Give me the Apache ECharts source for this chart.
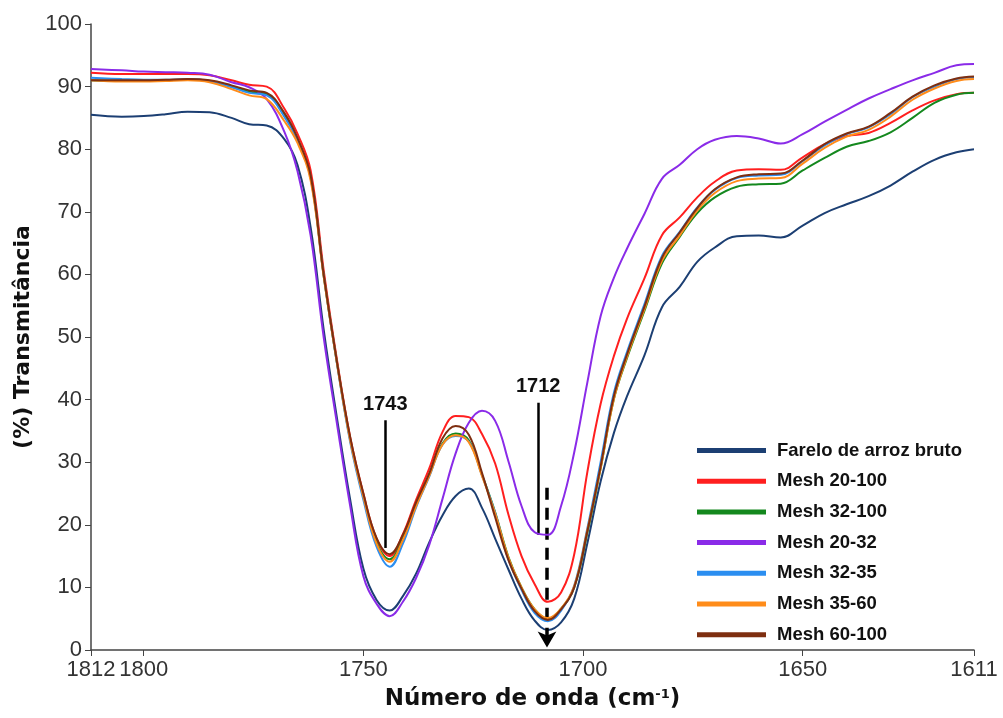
<!DOCTYPE html>
<html>
<head>
<meta charset="utf-8">
<script src="https://cdn.jsdelivr.net/npm/echarts@6/dist/echarts.min.js"></script>
<style>
  html, body { margin: 0; background: #fff; }
  #chart { width: 1003px; height: 718px; }
</style>
</head>
<body>
<div id="chart"></div>
<script>
  // wavenumbers (cm-1)
  const wn = [1812, 1805, 1800, 1795, 1790, 1785, 1780, 1776, 1772, 1768, 1765, 1762, 1759, 1756, 1753, 1750,
    1747, 1744, 1741, 1738, 1735, 1732, 1729, 1726, 1723, 1720, 1717, 1714, 1711, 1708, 1705, 1702, 1699, 1696,
    1693, 1690, 1686, 1682, 1678, 1674, 1670, 1665, 1660, 1655, 1650, 1645, 1640, 1635, 1630, 1625, 1620, 1615, 1611]

  const farelo = [85.5, 85.2, 85.3, 85.6, 86.0, 85.9, 85.0, 84.0, 83.8, 81.6, 77.5, 67.5, 51.0, 37.0, 24.0, 13.0,
    8.0, 6.3, 8.6, 12.2, 17.2, 21.5, 24.6, 25.8, 22.7, 17.8, 12.9, 8.2, 4.7, 3.2, 4.4, 8.2, 17.1, 26.9,
    34.6, 40.5, 47.1, 54.8, 58.0, 62.0, 64.3, 66.1, 66.2, 65.9, 67.8, 69.8, 71.2, 72.5, 74.2, 76.4, 78.3, 79.5, 80.0]
  const mesh20_100 = [92.2, 92.0, 92.0, 92.0, 92.0, 91.8, 91.0, 90.3, 90.0, 86.5, 82.5, 76.6, 60.5, 46.3, 34.0, 25.0,
    17.8, 15.0, 18.5, 24.0, 29.0, 34.8, 37.4, 37.2, 34.5, 29.8, 21.7, 15.0, 10.5, 7.7, 9.2, 15.3, 28.5, 39.3,
    46.9, 52.9, 59.4, 66.3, 69.1, 72.3, 74.8, 76.6, 76.8, 76.7, 78.7, 80.8, 82.1, 82.6, 84.2, 86.2, 87.8, 88.8, 89.0]
  const mesh32_100 = [91.0, 90.9, 90.9, 91.0, 91.1, 90.9, 90.0, 89.2, 88.8, 85.4, 81.5, 75.5, 59.6, 45.8, 33.6, 24.6,
    17.2, 14.5, 17.8, 23.2, 28.0, 33.0, 34.6, 33.5, 28.0, 22.0, 14.9, 10.0, 6.5, 5.0, 6.6, 10.0, 18.8, 29.0,
    40.0, 46.6, 54.2, 61.8, 66.0, 69.8, 72.3, 74.0, 74.4, 74.5, 76.6, 78.6, 80.4, 81.3, 82.7, 85.0, 87.4, 88.7, 89.0]
  const mesh20_32 = [92.8, 92.6, 92.4, 92.3, 92.2, 91.9, 90.7, 89.9, 88.0, 82.8, 76.5, 66.2, 49.8, 36.1, 23.0, 11.8,
    7.4, 5.4, 7.7, 11.5, 16.8, 24.1, 31.4, 36.3, 38.2, 36.6, 30.2, 23.0, 18.8, 18.4, 23.0, 31.6, 42.8, 53.3,
    59.4, 64.1, 69.7, 75.3, 77.5, 80.0, 81.5, 82.1, 81.7, 80.9, 82.4, 84.4, 86.3, 88.1, 89.6, 91.0, 92.2, 93.4, 93.6]
  const mesh32_35 = [91.4, 91.2, 91.1, 91.1, 91.2, 90.9, 89.9, 89.0, 88.6, 85.2, 81.4, 75.4, 59.6, 45.7, 33.2, 24.0,
    16.5, 13.3, 17.0, 22.8, 27.7, 32.8, 34.2, 33.3, 27.9, 21.9, 14.5, 9.6, 5.9, 4.6, 6.3, 10.3, 19.5, 30.0,
    41.0, 47.6, 55.3, 63.0, 66.8, 70.7, 73.5, 75.4, 75.8, 75.9, 78.1, 80.6, 82.4, 83.5, 85.6, 88.3, 90.0, 91.2, 91.5]
  const mesh35_60 = [91.0, 90.8, 90.8, 90.9, 91.0, 90.7, 89.6, 88.6, 88.0, 84.5, 81.0, 75.0, 59.5, 45.8, 33.5, 24.5,
    17.0, 14.1, 17.6, 23.0, 27.8, 32.8, 34.3, 33.2, 27.8, 21.8, 14.8, 10.0, 6.5, 5.1, 6.6, 10.2, 19.2, 29.0,
    40.0, 46.8, 54.5, 62.2, 66.2, 70.2, 73.0, 74.9, 75.3, 75.4, 77.7, 80.2, 82.0, 83.1, 85.2, 87.9, 89.7, 90.9, 91.2]
  const mesh60_100 = [91.0, 91.0, 91.0, 91.1, 91.2, 91.0, 90.2, 89.4, 89.0, 85.8, 81.8, 75.8, 59.8, 46.0, 34.0, 25.0,
    17.9, 15.3, 18.4, 23.6, 28.2, 33.8, 35.8, 34.4, 28.3, 21.2, 14.4, 9.8, 6.2, 4.8, 6.5, 10.0, 19.0, 29.3,
    40.5, 47.2, 54.9, 62.7, 66.7, 70.6, 73.6, 75.5, 76.0, 76.1, 78.2, 80.8, 82.5, 83.6, 85.8, 88.4, 90.2, 91.3, 91.6]

  const names = ['Farelo de arroz bruto', 'Mesh 20-100', 'Mesh 32-100', 'Mesh 20-32', 'Mesh 32-35', 'Mesh 35-60', 'Mesh 60-100']
  const values = [farelo, mesh20_100, mesh32_100, mesh20_32, mesh32_35, mesh35_60, mesh60_100]
  const colors = ['#1c3f73', '#ff1f1f', '#14881e', '#8a2be8', '#2b8ef0', '#ff8c1a', '#7e2e10']

  const xTicks = [1812, 1800, 1750, 1700, 1650, 1611]

  // peak annotations: [x, bottom, top, label]
  const peakLines = [[1745, 16.3, 36.7, '1743'], [1710.2, 18.4, 39.5, '1712']]
  const arrowLine = [1708.2, 25.9, 0.4]

  const chart = echarts.init(document.getElementById('chart'))

  const markData = peakLines.map(p => [
    { coord: [p[0], p[1]], symbol: 'none' },
    { coord: [p[0], p[2]], symbol: 'none', label: { show: true, position: 'end', formatter: p[3] } }
  ])
  markData.push([
    { coord: [arrowLine[0], arrowLine[1]], symbol: 'none' },
    { coord: [arrowLine[0], arrowLine[2]], symbol: 'arrow', symbolSize: [14, 16],
      lineStyle: { type: [12, 8], width: 3.5 } }
  ])

  const series = names.map((n, i) => ({
    name: n,
    type: 'line',
    data: wn.map((w, j) => [w, values[i][j]]),
    showSymbol: false,
    smooth: 0.4,
    lineStyle: { width: 2, color: colors[i] },
    itemStyle: { color: colors[i] },
    emphasis: { disabled: true },
    z: 2 + i
  }))
  series[0].markLine = {
    silent: true,
    animation: false,
    symbol: 'none',
    lineStyle: { color: '#000', width: 2.5, type: 'solid' },
    label: { color: '#111', fontSize: 20, fontWeight: 'bold', fontFamily: 'Liberation Sans', distance: 6 },
    data: markData
  }

  chart.setOption({
    animation: false,
    grid: { left: 91, right: 29, top: 24, bottom: 68, outerBoundsMode: 'none' },
    legend: {
      orient: 'vertical',
      left: 692,
      top: 436,
      icon: 'rect',
      itemWidth: 69,
      itemHeight: 5,
      itemGap: 11.7,
      data: names,
      textStyle: { fontSize: 18.5, fontWeight: 'bold', color: '#111', fontFamily: 'Liberation Sans', padding: [0, 0, 0, 6] }
    },
    xAxis: {
      type: 'value',
      min: 1611,
      max: 1812,
      inverse: true,
      name: 'Número de onda (cm{sup|-1})',
      nameLocation: 'middle',
      nameGap: 38,
      nameTextStyle: {
        fontSize: 23, fontWeight: 'bold', color: '#111', fontFamily: 'DejaVu Sans',
        rich: { sup: { fontSize: 13, fontWeight: 'bold', color: '#111', fontFamily: 'DejaVu Sans', verticalAlign: 'top' } }
      },
      axisLine: { lineStyle: { color: '#444', width: 1.5 } },
      axisTick: { customValues: xTicks, length: 6, lineStyle: { color: '#444' } },
      axisLabel: {
        customValues: xTicks, fontSize: 22, color: '#333', fontFamily: 'Liberation Sans', margin: 9,
        showMinLabel: true, showMaxLabel: true, hideOverlap: false,
        formatter: v => String(v)
      },
      splitLine: { show: false }
    },
    yAxis: {
      type: 'value',
      min: 0,
      max: 100,
      interval: 10,
      name: '(%) Transmitância',
      nameLocation: 'middle',
      nameGap: 56,
      nameTextStyle: { fontSize: 22, fontWeight: 'bold', color: '#111', fontFamily: 'DejaVu Sans' },
      axisLine: { show: true, lineStyle: { color: '#444', width: 1.5 } },
      axisTick: { show: true, length: 6, lineStyle: { color: '#444' } },
      axisLabel: { fontSize: 22, color: '#333', fontFamily: 'Liberation Sans', margin: 9 },
      splitLine: { show: false }
    },
    series: series
  })
</script>
</body>
</html>
